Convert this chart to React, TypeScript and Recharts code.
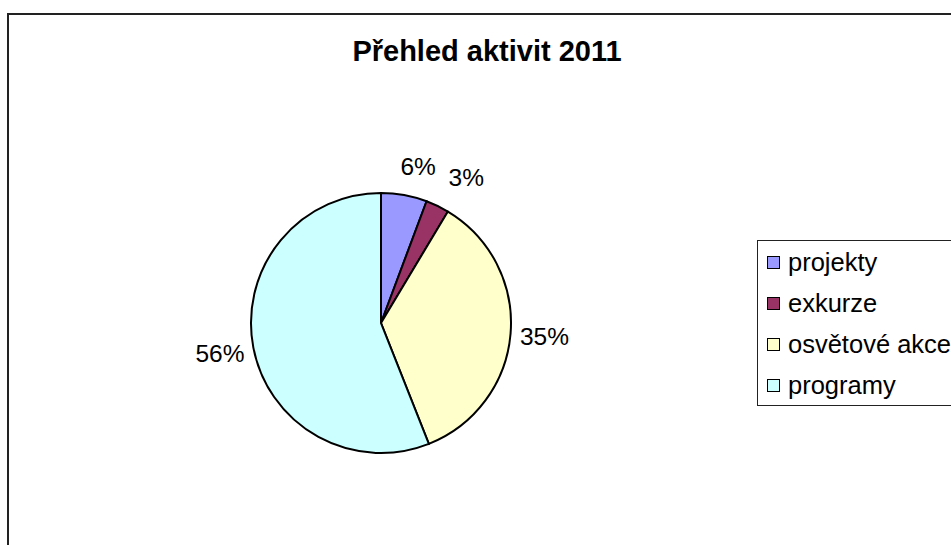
import React from 'react';
import { PieChart, Pie, Cell, Legend } from 'recharts';

// hodnoty (podíly v %)
const categories = ['projekty', 'exkurze', 'osvětové akce', 'programy'];
const shares = [5.7, 2.9, 35.4, 56.0];
const percentLabels = ['6%', '3%', '35%', '56%'];
const colors = ['#9999FF', '#993366', '#FFFFCC', '#CCFFFF'];

const title = 'Přehled aktivit 2011';

const FONT = 'Arial, "Liberation Sans", sans-serif';
const RAD = Math.PI / 180;

// Excel odsouvá popisky malých výsečí kousek stranou
const labelNudge = [
  [8, 5],
  [14, 2],
  [0, 0],
  [0, 0],
];

const data = categories.map((name, i) => ({ name, value: shares[i], label: percentLabels[i] }));

function renderLabel(props: any) {
  const { cx, cy, outerRadius, midAngle, index } = props;
  const r = outerRadius + 34;
  const x = cx + r * Math.cos(-midAngle * RAD) + labelNudge[index][0];
  const y = cy + r * Math.sin(-midAngle * RAD) + labelNudge[index][1];
  return (
    <text
      x={x}
      y={y}
      textAnchor="middle"
      dominantBaseline="central"
      fill="#000"
      fontSize={24.5}
      fontFamily={FONT}
    >
      {data[index].label}
    </text>
  );
}

function LegendBox() {
  return (
    <div
      style={{
        border: '1.5px solid #222',
        width: 260,
        height: 166,
        boxSizing: 'border-box',
        paddingTop: 1,
        paddingLeft: 9,
        background: '#fff',
      }}
    >
      {data.map((d, i) => (
        <div
          key={d.name}
          style={{ display: 'flex', alignItems: 'center', height: 41, fontFamily: FONT, fontSize: 25.5, color: '#000' }}
        >
          <span
            style={{
              display: 'inline-block',
              flex: 'none',
              width: 11,
              height: 11,
              border: '1.5px solid #000',
              background: colors[i],
              marginRight: 8,
            }}
          />
          <span style={{ whiteSpace: 'nowrap' }}>{d.name}</span>
        </div>
      ))}
    </div>
  );
}

export default function App() {
  return (
    <div
      style={{
        position: 'fixed',
        left: 0,
        top: 0,
        width: 951,
        height: 545,
        overflow: 'hidden',
        background: '#fff',
      }}
    >
      <div
        style={{
          position: 'absolute',
          left: 7,
          top: 13,
          width: 1100,
          height: 700,
          border: '2px solid #222',
        }}
      />
      <div
        style={{
          position: 'absolute',
          left: 0,
          width: 974,
          top: 35,
          textAlign: 'center',
          fontFamily: FONT,
          fontWeight: 'bold',
          fontSize: 29,
          color: '#000',
        }}
      >
        {title}
      </div>
      <div style={{ position: 'absolute', left: 0, top: 0 }}>
        <PieChart width={951} height={545}>
          <Pie
            data={data}
            dataKey="value"
            nameKey="name"
            cx={376}
            cy={318}
            outerRadius={130}
            startAngle={90}
            endAngle={-270}
            stroke="#000"
            strokeWidth={2}
            label={renderLabel}
            labelLine={false}
            isAnimationActive={false}
          >
            {data.map((d, i) => (
              <Cell key={d.name} fill={colors[i]} />
            ))}
          </Pie>
          <Legend
            layout="vertical"
            content={() => <LegendBox />}
            wrapperStyle={{ left: 757, top: 240, width: 260 }}
          />
        </PieChart>
      </div>
    </div>
  );
}
